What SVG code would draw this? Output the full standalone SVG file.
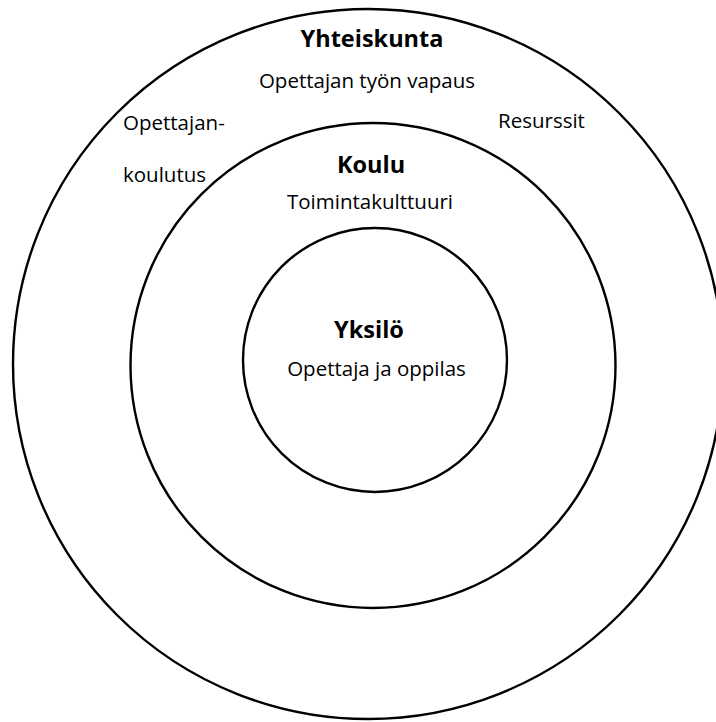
<svg xmlns="http://www.w3.org/2000/svg" width="716" height="722" viewBox="0 0 716 722">
<style>
.ring{fill:none;stroke:#000;stroke-width:2.4}
.t{font-family:"Open Sans","Liberation Sans",sans-serif;font-size:20.5px;fill:#000}
.b{font-family:"Open Sans","Liberation Sans",sans-serif;font-size:23.5px;font-weight:bold;fill:#000}
</style>
<rect width="716" height="722" fill="#fff"/>
<g id="yhteiskunta">
<circle class="ring" cx="368" cy="364" r="355"/>
<text class="b" x="372" y="47" text-anchor="middle">Yhteiskunta</text>
<text class="t" x="367" y="88" text-anchor="middle">Opettajan työn vapaus</text>
<text class="t" x="123" y="129.5">Opettajan-</text>
<text class="t" x="123" y="182">koulutus</text>
<text class="t" x="498" y="128">Resurssit</text>
</g>
<g id="koulu">
<circle class="ring" cx="373" cy="365.5" r="242.5"/>
<text class="b" x="371" y="173" text-anchor="middle">Koulu</text>
<text class="t" x="370" y="209" text-anchor="middle">Toimintakulttuuri</text>
</g>
<g id="yksilo">
<circle class="ring" cx="375" cy="360" r="132"/>
<text class="b" x="369" y="337.5" text-anchor="middle">Yksilö</text>
<text class="t" x="376.5" y="375.5" text-anchor="middle">Opettaja ja oppilas</text>
</g>
<g id="connectors"/>
</svg>
